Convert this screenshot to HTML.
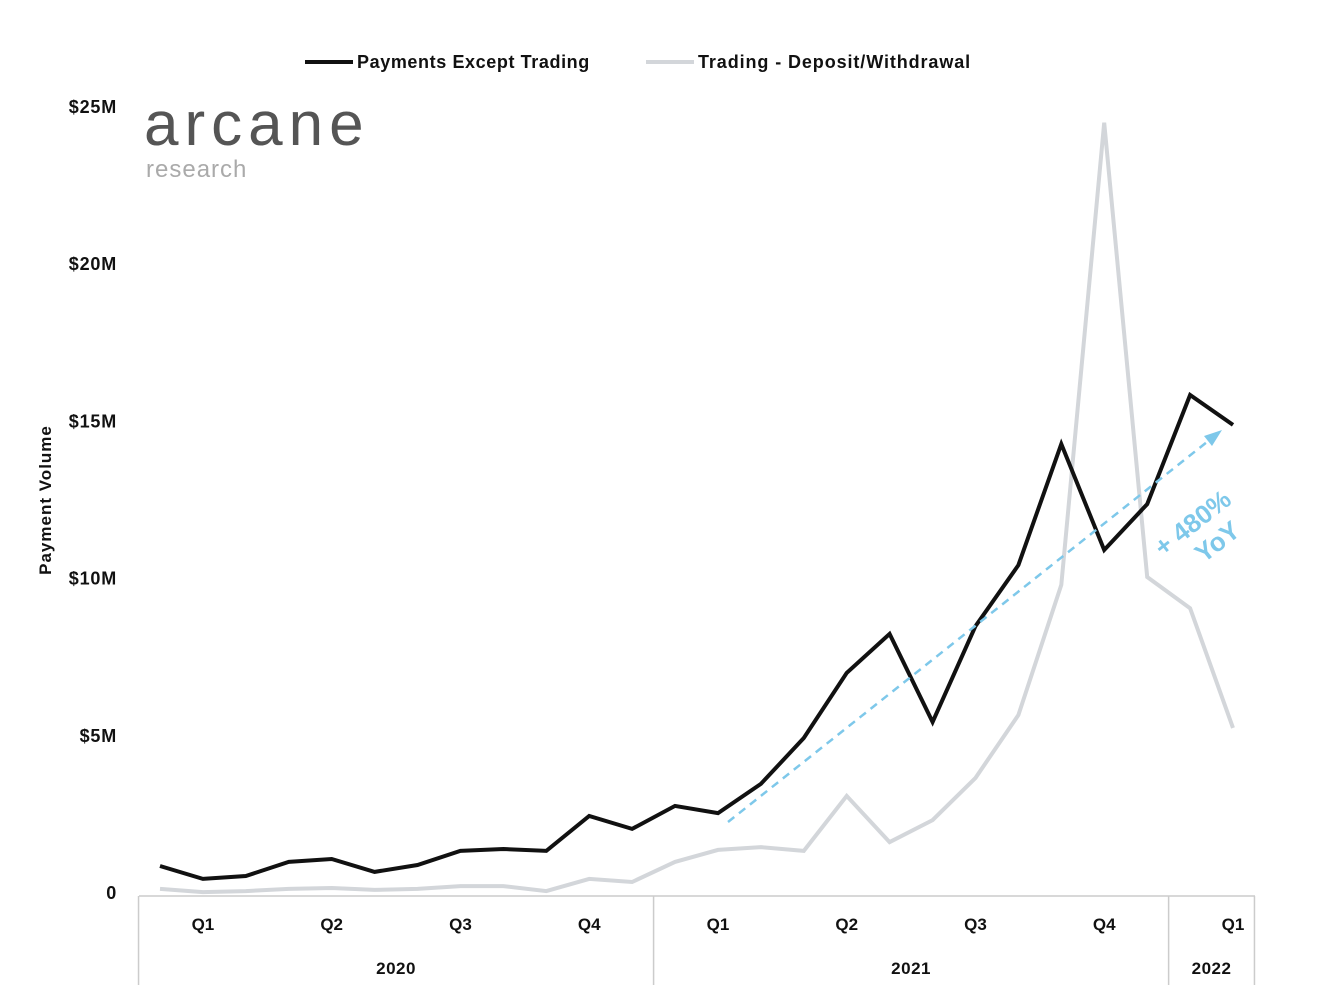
<!DOCTYPE html>
<html><head><meta charset="utf-8"><style>
html,body{margin:0;padding:0;background:#fff;}
svg{display:block;font-family:"Liberation Sans",sans-serif;}
</style></head><body>
<svg id="chart" width="1334" height="1000" viewBox="0 0 1334 1000">
  <g>
    <g>
      <line x1="305" y1="62" x2="353" y2="62" stroke="#111" stroke-width="4"/>
      <text x="357" y="68" font-size="18" font-weight="bold" letter-spacing="0.6" fill="#111">Payments Except Trading</text>
    </g>
    <g>
      <line x1="646" y1="62" x2="694" y2="62" stroke="#d3d6da" stroke-width="4"/>
      <text x="698" y="68" font-size="18" font-weight="bold" letter-spacing="0.9" fill="#111">Trading - Deposit/Withdrawal</text>
    </g>
  </g>
  <g>
    <text x="144" y="145" font-size="62" fill="#555" letter-spacing="6" font-weight="300">arcane</text>
    <text x="146" y="177" font-size="24" fill="#aaa" letter-spacing="1">research</text>
  </g>
  <text transform="translate(51,500) rotate(-90)" text-anchor="middle" font-size="17" font-weight="bold" letter-spacing="1" fill="#111">Payment Volume</text>
  <g id="yaxis"></g>
  <g id="xaxis"></g>
  <g id="series"></g>
  <g>
    <line x1="728" y1="822" x2="1212" y2="438" stroke="#7ec8ea" stroke-width="2.5" stroke-dasharray="8,6"/>
    <polygon points="1222,430 1204,436 1212,446" fill="#7ec8ea"/>
    <text transform="translate(1198,530) rotate(-38)" text-anchor="middle" font-size="26" font-weight="bold" fill="#7ec8ea"><tspan x="0" y="0">+ 480%</tspan><tspan x="8" y="30">YoY</tspan></text>
  </g>
</svg>
<script>
const yTicks=[0,5,10,15,20,25];
const yTickLabels=["0","$5M","$10M","$15M","$20M","$25M"];
const payments=[0.86,0.45,0.54,0.99,1.08,0.67,0.89,1.34,1.40,1.34,2.45,2.04,2.77,2.54,3.47,4.93,7.0,8.24,5.44,8.49,10.43,14.28,10.91,12.37,15.84,14.89];
const trading=[0.13,0.03,0.06,0.13,0.16,0.10,0.13,0.22,0.22,0.06,0.45,0.35,0.99,1.37,1.46,1.34,3.09,1.62,2.32,3.66,5.66,9.8,24.5,10.05,9.06,5.25];
const quarterLabels=["Q1","Q2","Q3","Q4","Q1","Q2","Q3","Q4","Q1"];
const quarterIndex=[1,4,7,10,13,16,19,22,25];
const years=["2020","2021","2022"];
const yearBounds=[[-0.5,11.5],[11.5,23.5],[23.5,25.5]];
const NS="http://www.w3.org/2000/svg";
const x0=160,dx=(1233-160)/25;
const X=i=>x0+i*dx;
const Y=v=>893-v*(893-107)/25;
function mk(tag,attrs,parent,txt){const e=document.createElementNS(NS,tag);for(const k in attrs)e.setAttribute(k,attrs[k]);if(txt!==undefined)e.textContent=txt;parent.appendChild(e);return e;}
const ya=document.getElementById('yaxis');
yTicks.forEach((t,i)=>{const e=mk('text',{x:117,y:Y(t)+6,'text-anchor':'end','font-size':18,'font-weight':'bold','letter-spacing':0.8,fill:'#111'},ya,yTickLabels[i]);

});
const xa=document.getElementById('xaxis');
mk('line',{x1:139,y1:896,x2:1255,y2:896,stroke:'#ccc','stroke-width':1.5},xa);
quarterLabels.forEach((q,i)=>{const e=mk('text',{x:X(quarterIndex[i]),y:930,'text-anchor':'middle','font-size':17,'font-weight':'bold',fill:'#111'},xa,q);

});
const bset=new Set();yearBounds.forEach(b=>{bset.add(b[0]);bset.add(b[1]);});
bset.forEach(b=>{const xx=X(b);mk('line',{x1:xx,y1:896,x2:xx,y2:985,stroke:'#ccc','stroke-width':1.5},xa);});
years.forEach((y,i)=>{const e=mk('text',{x:(X(yearBounds[i][0])+X(yearBounds[i][1]))/2,y:974,'text-anchor':'middle','font-size':17,'font-weight':'bold','letter-spacing':0.5,fill:'#111'},xa,y);

});
const s=document.getElementById('series');
const pts=a=>a.map((v,i)=>X(i).toFixed(1)+','+Y(v).toFixed(1)).join(' ');
const tl=mk('polyline',{points:pts(trading),fill:'none',stroke:'#d3d6da','stroke-width':4,'stroke-linejoin':'miter'},s);


const pl=mk('polyline',{points:pts(payments),fill:'none',stroke:'#111','stroke-width':4,'stroke-linejoin':'miter'},s);


</script>
</body></html>
